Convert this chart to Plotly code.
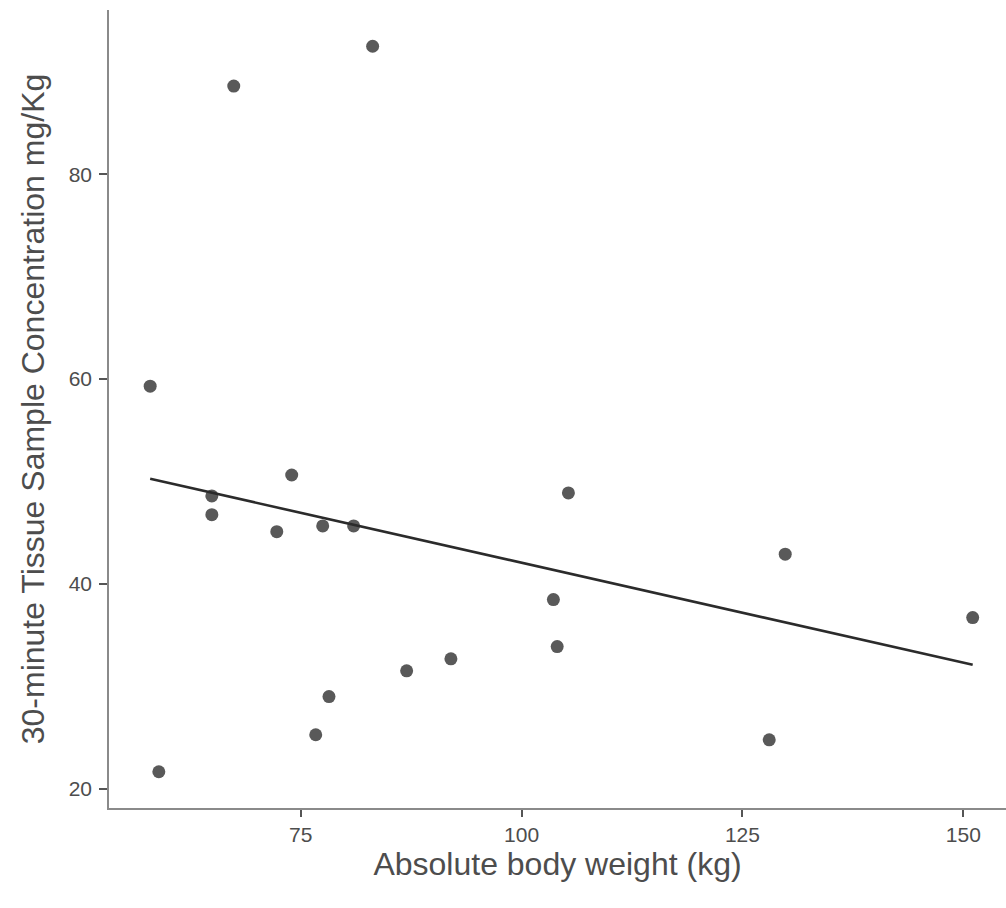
import numpy as np
import plotly.graph_objects as go

body_weight = [57.96, 58.94, 67.42, 64.94, 64.94, 72.29, 73.98, 77.49, 80.99, 83.14,
               76.70, 78.20, 86.99, 92.00, 103.60, 104.03, 105.30, 128.03, 129.84, 151.06]
concentration = [59.30, 21.66, 88.60, 48.59, 46.76, 45.10, 50.63, 45.66, 45.66, 92.49,
                 25.27, 29.00, 31.51, 32.68, 38.47, 33.88, 48.88, 24.78, 42.90, 36.71]
x_ticks = [75, 100, 125, 150]
y_ticks = [20, 40, 60, 80]

x = np.array(body_weight)
y = np.array(concentration)
slope, intercept = np.polyfit(x, y, 1)
fit_x = np.array([x.min(), x.max()])
fit_y = slope * fit_x + intercept

fig = go.Figure()
fig.add_trace(go.Scatter(x=body_weight, y=concentration, mode="markers",
                         marker=dict(size=13, color="#595959"), showlegend=False))
fig.add_trace(go.Scatter(x=fit_x, y=fit_y, mode="lines",
                         line=dict(color="#2b2b2b", width=2.6), showlegend=False))

fig.update_layout(
    width=1006, height=908,
    margin=dict(l=109, r=0, t=10, b=100),
    plot_bgcolor="white", paper_bgcolor="white",
    font=dict(family="Liberation Sans, Arial, sans-serif"),
    xaxis=dict(range=[53.3, 154.83], tickvals=x_ticks, showgrid=False, zeroline=False,
               showline=True, linecolor="#8a8a8a", linewidth=1.6,
               ticks="outside", ticklen=7, tickwidth=1.6, tickcolor="#555555",
               ticklabelstandoff=0,
               tickfont=dict(size=21, color="#4d4d4d"),
               title=dict(text="Absolute body weight (kg)", font=dict(size=32, color="#4d4d4d"), standoff=0)),
    yaxis=dict(range=[18.12, 96.03], tickvals=y_ticks, showgrid=False, zeroline=False,
               showline=True, linecolor="#8a8a8a", linewidth=1.6,
               ticks="outside", ticklen=8, tickwidth=1.6, tickcolor="#555555",
               ticklabelstandoff=3,
               tickfont=dict(size=21, color="#4d4d4d"),
               title=dict(text="30-minute Tissue Sample Concentration mg/Kg", font=dict(size=32, color="#4d4d4d"), standoff=14)),
)

fig.write_html("out.html")
